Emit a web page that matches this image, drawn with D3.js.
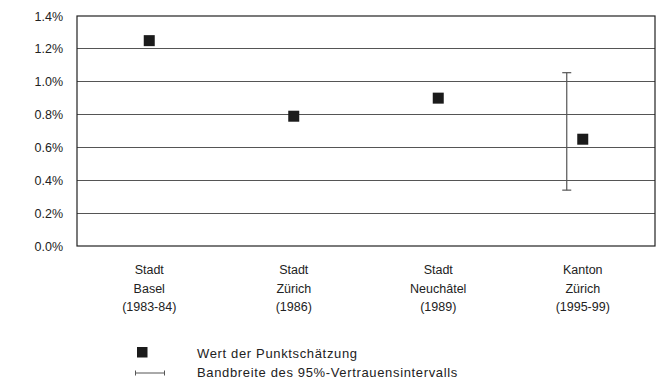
<!DOCTYPE html>
<html>
<head>
<meta charset="utf-8">
<script src="https://cdn.jsdelivr.net/npm/d3@7"></script>
<style>
  html, body { margin: 0; padding: 0; background: #fff; }
  svg { display: block; font-family: "Liberation Sans", Arial, sans-serif; }
</style>
</head>
<body>
<svg id="chart" width="658" height="383"></svg>
<script>
// Survey regions, each label split into three lines
const categories = [
  ["Stadt", "Basel", "(1983-84)"],
  ["Stadt", "Zürich", "(1986)"],
  ["Stadt", "Neuchâtel", "(1989)"],
  ["Kanton", "Zürich", "(1995-99)"]
];
// Point estimates, in percent
const estimates = [1.25, 0.79, 0.90, 0.65];
// 95% confidence interval bounds (only available for the cantonal survey)
const ciLower = [null, null, null, 0.34];
const ciUpper = [null, null, null, 1.055];
const yTicks = [0, 0.2, 0.4, 0.6, 0.8, 1.0, 1.2, 1.4];
const legendLabels = ["Wert der Punktschätzung", "Bandbreite des 95%-Vertrauensintervalls"];

const svg = d3.select("#chart");
const margin = { top: 16, right: 3, bottom: 137, left: 77 };
const W = 658, H = 383;
const iw = W - margin.left - margin.right;
const ih = H - margin.top - margin.bottom;

const g = svg.append("g").attr("transform", `translate(${margin.left},${margin.top})`);

const x = d3.scaleBand().domain(d3.range(categories.length)).range([0, iw]);
const y = d3.scaleLinear().domain([0, 1.4]).range([ih, 0]);

const ink = "#222";
const gridCol = "#555";

// Horizontal gridlines
g.append("g")
  .selectAll("line")
  .data(yTicks.filter(t => t > 0 && t < 1.4))
  .join("line")
  .attr("x1", 0).attr("x2", iw)
  .attr("y1", d => y(d)).attr("y2", d => y(d))
  .attr("stroke", gridCol).attr("stroke-width", 1)
  .attr("shape-rendering", "crispEdges");

// Plot frame
g.append("rect")
  .attr("x", 0).attr("y", 0).attr("width", iw).attr("height", ih)
  .attr("fill", "none").attr("stroke", ink).attr("stroke-width", 1.2);

// Y axis labels
const yAxis = d3.axisLeft(y).tickValues(yTicks).tickSize(0).tickPadding(14)
  .tickFormat(d => d3.format(".1f")(d) + "%");
const ya = g.append("g").call(yAxis);
ya.select(".domain").remove();
ya.selectAll("text")
  .attr("font-size", 12.5).attr("fill", ink)
  .attr("font-family", "'Liberation Sans', Arial, sans-serif");

// X axis category labels (multi-line)
const xl = g.append("g").attr("transform", `translate(0,${ih})`);
categories.forEach((lines, i) => {
  const t = xl.append("text")
    .attr("x", x(i) + x.bandwidth() / 2)
    .attr("y", 28)
    .attr("text-anchor", "middle")
    .attr("font-size", 12.5).attr("fill", ink);
  lines.forEach((ln, k) => {
    t.append("tspan")
      .attr("x", x(i) + x.bandwidth() / 2)
      .attr("dy", k === 0 ? 0 : 18.5)
      .text(ln);
  });
});

// Confidence interval whiskers, drawn just left of the estimate
const ciOffset = -16;
const capHalf = 4.5;
const ciData = estimates.map((v, i) => ({ i, lo: ciLower[i], hi: ciUpper[i] }))
  .filter(d => d.lo != null && d.hi != null);
const ci = g.append("g").attr("stroke", gridCol).attr("stroke-width", 1.2);
ciData.forEach(d => {
  const cx = x(d.i) + x.bandwidth() / 2 + ciOffset;
  ci.append("line").attr("x1", cx).attr("x2", cx).attr("y1", y(d.hi)).attr("y2", y(d.lo));
  ci.append("line").attr("x1", cx - capHalf).attr("x2", cx + capHalf).attr("y1", y(d.hi)).attr("y2", y(d.hi));
  ci.append("line").attr("x1", cx - capHalf).attr("x2", cx + capHalf).attr("y1", y(d.lo)).attr("y2", y(d.lo));
});

// Point estimates as squares
const sq = 11;
g.append("g")
  .selectAll("rect")
  .data(estimates)
  .join("rect")
  .attr("x", (d, i) => x(i) + x.bandwidth() / 2 - sq / 2)
  .attr("y", d => y(d) - sq / 2)
  .attr("width", sq).attr("height", sq)
  .attr("fill", "#1b1b1b");

// Legend
const lg = svg.append("g").attr("transform", "translate(135,347)");
lg.append("rect").attr("x", 2).attr("y", 0).attr("width", 10.5).attr("height", 10.5).attr("fill", "#1b1b1b");
const legendText = (yy, s) => lg.append("text")
  .attr("x", 62).attr("y", yy)
  .attr("font-size", 13).attr("letter-spacing", 0.65)
  .attr("fill", ink).text(s);
legendText(11, legendLabels[0]);
const ly = 26;
const lgl = lg.append("g").attr("stroke", gridCol).attr("stroke-width", 1);
lgl.append("line").attr("x1", 0).attr("x2", 30).attr("y1", ly).attr("y2", ly);
lgl.append("line").attr("x1", 0.5).attr("x2", 0.5).attr("y1", ly - 2.5).attr("y2", ly + 2.5);
lgl.append("line").attr("x1", 29.5).attr("x2", 29.5).attr("y1", ly - 2.5).attr("y2", ly + 2.5);
legendText(30, legendLabels[1]);
</script>
</body>
</html>
